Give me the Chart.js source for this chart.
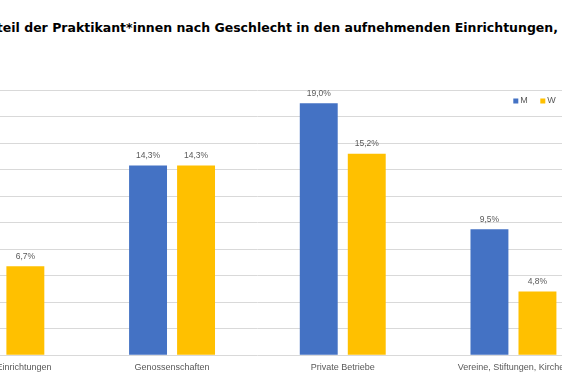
<!DOCTYPE html>
<html>
<head>
<meta charset="utf-8">
<script src="https://cdn.jsdelivr.net/npm/chart.js"></script>
<style>
    html, body { margin: 0; padding: 0; background: #fff; }
    body { position: relative; width: 562px; height: 374px; overflow: hidden; }
    #title {
        position: absolute; top: 20px; right: 4px; white-space: nowrap;
        font: bold 12.5px "DejaVu Sans", sans-serif; color: #000;
    }
    #chart { position: absolute; top: 0; left: 0; }
</style>
</head>
<body>
<div id="title">Anteil der Praktikant*innen nach Geschlecht in den aufnehmenden Einrichtungen,</div>
<canvas id="chart" width="740" height="380"></canvas>
<script>
const categories = ['Öffentliche Einrichtungen', 'Genossenschaften', 'Private Betriebe', 'Vereine, Stiftungen, Kirchen'];
const seriesNames = ['M', 'W'];
const valuesM = [null, 14.3, 19.0, 9.5]; // first M bar is outside the visible crop
const valuesW = [6.7, 14.3, 15.2, 4.8];
const yMin = 0;
const yMax = 20;
const yStep = 2;
const colors = ['#4472C4', '#FFC000'];

function pct(v) {
    return v.toFixed(1).replace('.', ',') + '%';
}

// value labels above the bars
const valueLabels = {
    id: 'valueLabels',
    afterDatasetsDraw(chart) {
        const ctx = chart.ctx;
        ctx.save();
        ctx.font = '8.5px "Liberation Sans", Arial, sans-serif';
        ctx.fillStyle = '#595959';
        ctx.textAlign = 'center';
        ctx.textBaseline = 'middle';
        chart.data.datasets.forEach((ds, i) => {
            chart.getDatasetMeta(i).data.forEach((bar, j) => {
                if (ds.data[j] == null) return;
                ctx.fillText(pct(ds.data[j]), bar.x, bar.y - 9.5);
            });
        });
        ctx.restore();
    }
};

// legend sits inside the plot, top right
const innerLegend = {
    id: 'innerLegend',
    afterDraw(chart) {
        const ctx = chart.ctx;
        const area = chart.chartArea;
        let x = area.right - 85.5;
        const y = area.top + 11;
        ctx.save();
        ctx.font = '9px "Liberation Sans", Arial, sans-serif';
        ctx.textBaseline = 'middle';
        ctx.textAlign = 'left';
        chart.data.datasets.forEach(ds => {
            ctx.fillStyle = ds.backgroundColor;
            ctx.fillRect(x, y - 2.5, 5, 5);
            ctx.fillStyle = '#595959';
            ctx.fillText(ds.label, x + 7, y);
            x += 27;
        });
        ctx.restore();
    }
};

Chart.defaults.font.family = '"Liberation Sans", Arial, sans-serif';
Chart.defaults.color = '#595959';

const canvas = document.getElementById('chart');
const chart = new Chart(canvas, {
    type: 'bar',
    data: {
        labels: categories,
        datasets: [
            { label: seriesNames[0], data: valuesM, backgroundColor: colors[0] },
            { label: seriesNames[1], data: valuesW, backgroundColor: colors[1] }
        ]
    },
    options: {
        responsive: false,
        animation: false,
        categoryPercentage: 0.5625,
        barPercentage: 0.79,
        layout: { padding: { top: 90, bottom: 0, left: 0, right: 7.2 } },
        plugins: {
            legend: { display: false },
            title: { display: false },
            tooltip: { enabled: false }
        },
        scales: {
            x: {
                grid: { display: false, drawTicks: false },
                border: { display: false },
                ticks: { font: { size: 9 }, padding: 7, maxRotation: 0, autoSkip: false }
            },
            y: {
                min: yMin,
                max: yMax,
                afterFit: axis => { axis.width = 50; },
                grid: { color: '#D9D9D9', drawTicks: false },
                border: { display: false },
                ticks: { stepSize: yStep, font: { size: 9 }, padding: 6, callback: v => pct(v) }
            }
        }
    },
    plugins: [valueLabels, innerLegend]
});

canvas.style.left = (-84 - chart.chartArea.left) + 'px';
</script>
</body>
</html>
